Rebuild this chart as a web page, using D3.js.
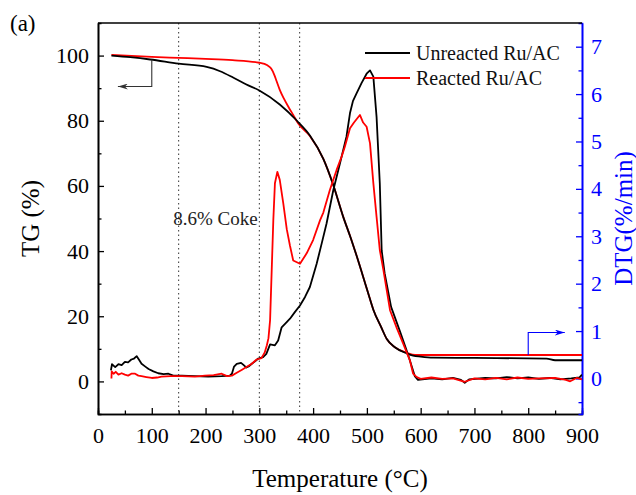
<!DOCTYPE html>
<html>
<head>
<meta charset="utf-8">
<script src="https://cdn.jsdelivr.net/npm/d3@7"></script>
<style>
  body { margin: 0; background: #fff; }
  svg text { font-family: "Liberation Serif", "Times New Roman", Times, "DejaVu Serif", "Noto Serif", serif !important; }
</style>
</head>
<body>
<div class="canvas"></div>
<script>
// TG curves, [temperature °C, weight %]
const tgUnreacted = [
  [25,100],[60,99.5],[97,98.8],[150,97.5],[202,96.5],[227,95.2],[252,93.2],[275,91.2],
  [300,89.3],[338,85],[370,80],[394,75.5],[419,68.3],[437,60.5],[456,50.5],[470,44],
  [480,39],[502,27.3],[512,22],[527,16.5],[537,13],[552,10.5],[574,8.6],[586,7.9],
  [600,7.6],[623,7.3],[700,7.2],[834,7.0],[850,6.5],[900,6.5]
];
const tgReacted = [
  [25,100.2],[100,99.6],[150,99.3],[200,99],[250,98.6],[300,97.8],[315,97],[322,96],
  [328,94],[332,92.2],[338,89.5],[345,87],[355,84],[363,81.8],[372,79.2],[394,75.3],
  [419,68.3],[437,60.5],[456,50.5],[470,44],[480,39],[502,27.3],[512,22],[527,16.5],
  [537,13],[552,10.5],[574,8.8],[590,8.1],[900,8.1]
];

// DTG curves, [temperature °C, %/min]
const dtgUnreacted = [
  [24,0.17],[26,0.3],[32,0.24],[38,0.3],[44,0.28],[50,0.35],[56,0.34],[62,0.4],[67,0.42],
  [72,0.47],[76,0.4],[81,0.31],[88,0.25],[94,0.2],[103,0.15],[112,0.11],[122,0.09],
  [131,0.1],[140,0.06],[156,0.06],[180,0.05],[205,0.04],[230,0.05],[245,0.06],[249,0.1],
  [253,0.25],[258,0.31],[266,0.33],[271,0.28],[276,0.23],[281,0.26],[286,0.31],[292,0.36],
  [298,0.42],[307,0.45],[313,0.52],[320,0.72],[329,0.7],[335,0.8],[341.5,1.08],[350,1.18],
  [357,1.26],[366,1.4],[375.6,1.54],[385,1.72],[394,1.93],[406.6,2.42],[416,2.85],[425,3.27],
  [437.5,3.97],[450,4.54],[462,5.1],[468.6,5.6],[474,5.85],[481,6.02],[490,6.23],[499.5,6.43],
  [505.8,6.5],[512,6.37],[518,5.52],[524,4.12],[527.5,2.7],[533,2.22],[545,1.51],[561,1.01],
  [573,0.62],[580,0.38],[589,0.05],[595,-0.03],[620,0.0],[640,-0.02],[660,0.01],[675,-0.03],
  [682,-0.09],[690,-0.02],[720,0.01],[740,0.0],[760,0.03],[780,0.0],[800,0.02],[820,-0.01],
  [840,0.01],[860,-0.02],[880,0.0],[895,0.02],[900,0.08]
];
const dtgReacted = [
  [25,0.0],[25.5,0.15],[29,0.1],[33,0.14],[38,0.08],[44,0.11],[50,0.08],[56,0.06],[62,0.1],
  [69,0.1],[75,0.06],[81,0.05],[90,0.03],[100,0.01],[110,0.02],[118,0.04],[135,0.05],
  [156,0.05],[180,0.04],[199,0.06],[215,0.07],[230,0.1],[240,0.05],[249,0.06],[258,0.12],
  [267,0.18],[276,0.24],[286,0.31],[295,0.4],[304,0.43],[310,0.55],[314,0.7],[317,0.85],
  [320,1.23],[323,2.28],[326,3.34],[329,4.12],[333.5,4.36],[338,4.19],[344.6,3.69],[351,3.15],
  [357,2.8],[363,2.49],[375.6,2.42],[388,2.64],[400,2.92],[413,3.34],[419,3.5],[431,3.97],
  [443.7,4.4],[453,4.68],[459,4.89],[468.6,5.28],[476,5.4],[487,5.56],[493,5.4],[499.5,5.31],
  [505.8,4.96],[512,4.12],[518,3.41],[524,2.71],[530.5,2.3],[543,1.44],[556,1.05],[567.7,0.73],
  [580,0.38],[586,0.1],[592.6,0.03],[600,-0.01],[620,0.02],[640,-0.01],[660,0.0],[682,-0.07],
  [700,0.0],[720,-0.02],[740,0.01],[760,-0.02],[780,0.02],[800,-0.01],[820,0.0],[850,0.01],
  [870,-0.03],[878,-0.06],[890,0.01],[900,-0.02]
];

const seriesNames = ['Unreacted Ru/AC', 'Reacted Ru/AC'];
const seriesColors = ['#000000', '#ff0000'];
const xTicks = d3.range(0, 901, 100);
const tgTicks = d3.range(0, 101, 20);
const dtgTicks = d3.range(0, 8, 1);
const markerTemps = [150, 300, 375];

const dims = { width: 636, height: 495 };
const margin = { top: 23, right: 54, bottom: 81, left: 98 };
const inner = {
  width: dims.width - margin.left - margin.right,
  height: dims.height - margin.top - margin.bottom
};
const blue = '#0000ff';
const serif = '"Liberation Serif", "Times New Roman", Times, "DejaVu Serif", "Noto Serif", serif';

const svg = d3.select('.canvas')
  .append('svg')
  .attr('width', dims.width)
  .attr('height', dims.height)
  .attr('font-family', serif);

const graph = svg.append('g')
  .attr('transform', `translate(${margin.left}, ${margin.top})`);

// scales
const x = d3.scaleLinear().domain([0, 900]).range([0, inner.width]);
const yL = d3.scaleLinear().domain([-10, 110]).range([inner.height, 0]);
const yR = d3.scaleLinear().domain([-0.75, 7.5]).range([inner.height, 0]);

graph.append('clipPath').attr('id', 'clip')
  .append('rect').attr('width', inner.width).attr('height', inner.height);

// dotted marker lines
graph.selectAll('line.marker')
  .data(markerTemps)
  .enter().append('line')
  .attr('class', 'marker')
  .attr('x1', d => x(d)).attr('x2', d => x(d))
  .attr('y1', 0).attr('y2', inner.height)
  .attr('stroke', '#333')
  .attr('stroke-width', 1)
  .attr('stroke-dasharray', '1.5,3');

// axes
const fontSize = 22;
const styleAxis = (g, color) => {
  g.attr('font-family', serif);
  g.select('.domain').attr('stroke', color).attr('stroke-width', 1.6);
  g.selectAll('.tick line').attr('stroke', color).attr('stroke-width', 1.3);
  g.selectAll('text')
    .attr('fill', color)
    .style('font-size', fontSize + 'px');
};

const xMinor = graph.append('g').attr('transform', `translate(0, ${inner.height})`)
  .call(d3.axisBottom(x).tickValues(d3.range(50, 900, 100)).tickSize(-3.5).tickFormat(''));
styleAxis(xMinor, '#000');
const xAxis = graph.append('g').attr('transform', `translate(0, ${inner.height})`)
  .call(d3.axisBottom(x).tickValues(xTicks).tickSizeInner(-6).tickSizeOuter(0).tickPadding(13));
styleAxis(xAxis, '#000');

const yMinor = graph.append('g')
  .call(d3.axisLeft(yL).tickValues(d3.range(10, 110, 20)).tickSize(-3.5).tickFormat(''));
styleAxis(yMinor, '#000');
const yAxis = graph.append('g')
  .call(d3.axisLeft(yL).tickValues(tgTicks).tickSizeInner(-6).tickSizeOuter(0).tickPadding(9));
styleAxis(yAxis, '#000');

const rMinor = graph.append('g').attr('transform', `translate(${inner.width}, 0)`)
  .call(d3.axisRight(yR).tickValues(d3.range(-0.5, 7.5, 1)).tickSize(-3.5).tickFormat(''));
styleAxis(rMinor, blue);
const rAxis = graph.append('g').attr('transform', `translate(${inner.width}, 0)`)
  .call(d3.axisRight(yR).tickValues(dtgTicks).tickSizeInner(-6).tickSizeOuter(0).tickPadding(9));
styleAxis(rAxis, blue);

// top frame line
graph.append('line')
  .attr('x1', 0).attr('x2', inner.width)
  .attr('y1', 0).attr('y2', 0)
  .attr('stroke', '#000').attr('stroke-width', 1.6);

// curves
const tgLine = d3.line().x(d => x(d[0])).y(d => yL(d[1])).curve(d3.curveMonotoneX);
const dtgLine = d3.line().x(d => x(d[0])).y(d => yR(d[1]));

const curves = graph.append('g').attr('clip-path', 'url(#clip)');
const drawList = [
  { data: tgReacted, line: tgLine, color: seriesColors[1] },
  { data: tgUnreacted, line: tgLine, color: seriesColors[0] },
  { data: dtgUnreacted, line: dtgLine, color: seriesColors[0] },
  { data: dtgReacted, line: dtgLine, color: seriesColors[1] }
];
curves.selectAll('path')
  .data(drawList)
  .enter().append('path')
  .attr('d', d => d.line(d.data))
  .attr('fill', 'none')
  .attr('stroke', d => d.color)
  .attr('stroke-width', 1.8)
  .attr('stroke-linejoin', 'round');

// arrows pointing at the matching axis
const defs = svg.append('defs');
const marker = (id, color) => defs.append('marker')
  .attr('id', id)
  .attr('viewBox', '0 0 10 6')
  .attr('refX', 10).attr('refY', 3)
  .attr('markerWidth', 10).attr('markerHeight', 6)
  .attr('markerUnits', 'userSpaceOnUse')
  .attr('orient', 'auto')
  .append('path').attr('d', 'M0,0 L10,3 L0,6 L3,3 Z').attr('fill', color);
marker('arrowDark', '#333');
marker('arrowBlue', blue);

graph.append('path')
  .attr('d', `M${x(100)},${yL(98.7)} V${yL(90.5)} H${x(37)}`)
  .attr('fill', 'none').attr('stroke', '#333').attr('stroke-width', 1.1)
  .attr('marker-end', 'url(#arrowDark)');
graph.append('path')
  .attr('d', `M${x(800)},${yL(8.1)} V${yL(15)} H${x(868)}`)
  .attr('fill', 'none').attr('stroke', blue).attr('stroke-width', 1.1)
  .attr('marker-end', 'url(#arrowBlue)');

// annotation
graph.append('text')
  .attr('x', x(140)).attr('y', yL(48))
  .style('font-size', '19px')
  .attr('fill', '#222')
  .text('8.6% Coke');

// legend
const legend = graph.append('g').attr('transform', `translate(${365 - margin.left}, ${53 - margin.top})`);
const items = legend.selectAll('g')
  .data(seriesNames)
  .enter().append('g')
  .attr('transform', (d, i) => `translate(0, ${i * 25})`);
items.append('line')
  .attr('x1', 0).attr('x2', 45)
  .attr('stroke', (d, i) => seriesColors[i])
  .attr('stroke-width', 1.8);
items.append('text')
  .attr('x', 51).attr('y', 7)
  .style('font-size', '20px')
  .attr('fill', '#111')
  .text(d => d);

// titles
svg.append('text')
  .attr('x', 10).attr('y', 31)
  .style('font-size', '23px')
  .text('(a)');

svg.append('text')
  .attr('x', margin.left + inner.width / 2).attr('y', 487)
  .attr('text-anchor', 'middle')
  .style('font-size', '25px')
  .text('Temperature (°C)');

svg.append('text')
  .attr('transform', `translate(39, ${margin.top + inner.height / 2}) rotate(-90)`)
  .attr('text-anchor', 'middle')
  .style('font-size', '25px')
  .text('TG (%)');

svg.append('text')
  .attr('transform', `translate(632, ${margin.top + inner.height / 2}) rotate(-90)`)
  .attr('text-anchor', 'middle')
  .attr('fill', blue)
  .style('font-size', '25px')
  .text('DTG(%/min)');
</script>
</body>
</html>
